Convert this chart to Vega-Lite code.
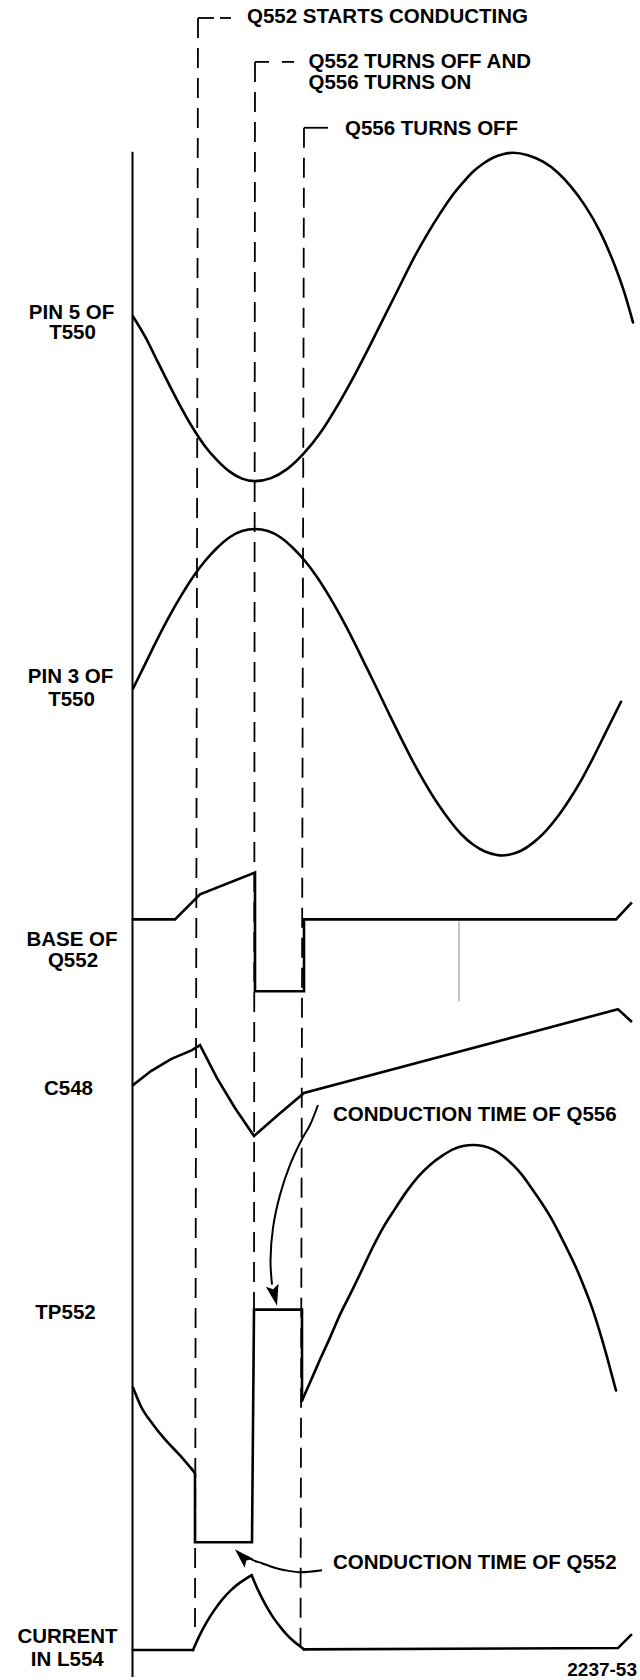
{
  "$schema": "https://vega.github.io/schema/vega-lite/v6.json",
  "width": 640,
  "height": 1680,
  "autosize": {"type": "fit", "contains": "padding"},
  "padding": 0,
  "background": "white",
  "config": {"view": {"stroke": null}},
  "datasets": {
    "smooth": [
      {"seg": "pin5", "i": 1, "t": 133, "v": 317}, {"seg": "pin5", "i": 2, "t": 145, "v": 337}, {"seg": "pin5", "i": 3, "t": 157, "v": 361}, {"seg": "pin5", "i": 4, "t": 169, "v": 385}, {"seg": "pin5", "i": 5, "t": 181, "v": 408}, {"seg": "pin5", "i": 6, "t": 193, "v": 429}, {"seg": "pin5", "i": 7, "t": 205, "v": 447}, {"seg": "pin5", "i": 8, "t": 217, "v": 461}, {"seg": "pin5", "i": 9, "t": 229, "v": 472}, {"seg": "pin5", "i": 10, "t": 242, "v": 479.5}, {"seg": "pin5", "i": 11, "t": 255, "v": 482}, {"seg": "pin5", "i": 12, "t": 271, "v": 479}, {"seg": "pin5", "i": 13, "t": 287, "v": 470}, {"seg": "pin5", "i": 14, "t": 304, "v": 454}, {"seg": "pin5", "i": 15, "t": 320, "v": 434}, {"seg": "pin5", "i": 16, "t": 340, "v": 402}, {"seg": "pin5", "i": 17, "t": 355, "v": 375}, {"seg": "pin5", "i": 18, "t": 370, "v": 346}, {"seg": "pin5", "i": 19, "t": 385, "v": 316}, {"seg": "pin5", "i": 20, "t": 400, "v": 286}, {"seg": "pin5", "i": 21, "t": 413, "v": 260}, {"seg": "pin5", "i": 22, "t": 427, "v": 235}, {"seg": "pin5", "i": 23, "t": 440, "v": 214}, {"seg": "pin5", "i": 24, "t": 450, "v": 199}, {"seg": "pin5", "i": 25, "t": 462, "v": 184}, {"seg": "pin5", "i": 26, "t": 473, "v": 172}, {"seg": "pin5", "i": 27, "t": 483, "v": 164}, {"seg": "pin5", "i": 28, "t": 493, "v": 158}, {"seg": "pin5", "i": 29, "t": 503, "v": 154.5}, {"seg": "pin5", "i": 30, "t": 513, "v": 153}, {"seg": "pin5", "i": 31, "t": 528, "v": 155.5}, {"seg": "pin5", "i": 32, "t": 543, "v": 162}, {"seg": "pin5", "i": 33, "t": 558, "v": 173}, {"seg": "pin5", "i": 34, "t": 571, "v": 187}, {"seg": "pin5", "i": 35, "t": 585, "v": 206}, {"seg": "pin5", "i": 36, "t": 600, "v": 232}, {"seg": "pin5", "i": 37, "t": 612, "v": 259}, {"seg": "pin5", "i": 38, "t": 624, "v": 292}, {"seg": "pin5", "i": 39, "t": 633, "v": 323},
      {"seg": "pin3", "i": 1, "t": 133, "v": 690}, {"seg": "pin3", "i": 2, "t": 145, "v": 665.5}, {"seg": "pin3", "i": 3, "t": 157, "v": 641}, {"seg": "pin3", "i": 4, "t": 169, "v": 618}, {"seg": "pin3", "i": 5, "t": 181, "v": 597}, {"seg": "pin3", "i": 6, "t": 193, "v": 578}, {"seg": "pin3", "i": 7, "t": 205, "v": 562}, {"seg": "pin3", "i": 8, "t": 217, "v": 549}, {"seg": "pin3", "i": 9, "t": 230, "v": 538}, {"seg": "pin3", "i": 10, "t": 242, "v": 532}, {"seg": "pin3", "i": 11, "t": 255, "v": 530}, {"seg": "pin3", "i": 12, "t": 268, "v": 532}, {"seg": "pin3", "i": 13, "t": 280, "v": 538}, {"seg": "pin3", "i": 14, "t": 293, "v": 549}, {"seg": "pin3", "i": 15, "t": 305, "v": 562}, {"seg": "pin3", "i": 16, "t": 317, "v": 578}, {"seg": "pin3", "i": 17, "t": 329, "v": 597}, {"seg": "pin3", "i": 18, "t": 341, "v": 618}, {"seg": "pin3", "i": 19, "t": 353, "v": 641}, {"seg": "pin3", "i": 20, "t": 365, "v": 665.5}, {"seg": "pin3", "i": 21, "t": 377, "v": 690}, {"seg": "pin3", "i": 22, "t": 389, "v": 715}, {"seg": "pin3", "i": 23, "t": 401, "v": 739.5}, {"seg": "pin3", "i": 24, "t": 413, "v": 763}, {"seg": "pin3", "i": 25, "t": 425, "v": 784.5}, {"seg": "pin3", "i": 26, "t": 437, "v": 804}, {"seg": "pin3", "i": 27, "t": 449, "v": 821}, {"seg": "pin3", "i": 28, "t": 461, "v": 835.5}, {"seg": "pin3", "i": 29, "t": 473, "v": 846}, {"seg": "pin3", "i": 30, "t": 485, "v": 853}, {"seg": "pin3", "i": 31, "t": 497, "v": 856.5}, {"seg": "pin3", "i": 32, "t": 502, "v": 857}, {"seg": "pin3", "i": 33, "t": 509, "v": 856.3}, {"seg": "pin3", "i": 34, "t": 521, "v": 852.3}, {"seg": "pin3", "i": 35, "t": 533, "v": 844.4}, {"seg": "pin3", "i": 36, "t": 545, "v": 833.3}, {"seg": "pin3", "i": 37, "t": 557, "v": 819}, {"seg": "pin3", "i": 38, "t": 569, "v": 801.7}, {"seg": "pin3", "i": 39, "t": 581, "v": 782}, {"seg": "pin3", "i": 40, "t": 593, "v": 759.4}, {"seg": "pin3", "i": 41, "t": 605, "v": 735.2}, {"seg": "pin3", "i": 42, "t": 621, "v": 703},
      {"seg": "tpL", "i": 1, "t": 133, "v": 1390}, {"seg": "tpL", "i": 2, "t": 141, "v": 1409}, {"seg": "tpL", "i": 3, "t": 153, "v": 1427}, {"seg": "tpL", "i": 4, "t": 165, "v": 1442}, {"seg": "tpL", "i": 5, "t": 180, "v": 1458}, {"seg": "tpL", "i": 6, "t": 192, "v": 1472},
      {"seg": "tpR", "i": 1, "t": 302, "v": 1403}, {"seg": "tpR", "i": 2, "t": 310, "v": 1385}, {"seg": "tpR", "i": 3, "t": 320, "v": 1362}, {"seg": "tpR", "i": 4, "t": 330, "v": 1340}, {"seg": "tpR", "i": 5, "t": 340, "v": 1317}, {"seg": "tpR", "i": 6, "t": 352, "v": 1293}, {"seg": "tpR", "i": 7, "t": 363, "v": 1270}, {"seg": "tpR", "i": 8, "t": 373, "v": 1249}, {"seg": "tpR", "i": 9, "t": 383, "v": 1230}, {"seg": "tpR", "i": 10, "t": 395, "v": 1211}, {"seg": "tpR", "i": 11, "t": 407, "v": 1193}, {"seg": "tpR", "i": 12, "t": 418, "v": 1179}, {"seg": "tpR", "i": 13, "t": 430, "v": 1167}, {"seg": "tpR", "i": 14, "t": 442, "v": 1158}, {"seg": "tpR", "i": 15, "t": 453, "v": 1151.5}, {"seg": "tpR", "i": 16, "t": 463, "v": 1148}, {"seg": "tpR", "i": 17, "t": 473, "v": 1147}, {"seg": "tpR", "i": 18, "t": 483, "v": 1148}, {"seg": "tpR", "i": 19, "t": 493, "v": 1151.5}, {"seg": "tpR", "i": 20, "t": 503, "v": 1158}, {"seg": "tpR", "i": 21, "t": 513, "v": 1167}, {"seg": "tpR", "i": 22, "t": 522, "v": 1177}, {"seg": "tpR", "i": 23, "t": 530, "v": 1188}, {"seg": "tpR", "i": 24, "t": 541, "v": 1204}, {"seg": "tpR", "i": 25, "t": 551, "v": 1220}, {"seg": "tpR", "i": 26, "t": 560, "v": 1237}, {"seg": "tpR", "i": 27, "t": 569, "v": 1255}, {"seg": "tpR", "i": 28, "t": 577, "v": 1272}, {"seg": "tpR", "i": 29, "t": 584, "v": 1289}, {"seg": "tpR", "i": 30, "t": 592, "v": 1310}, {"seg": "tpR", "i": 31, "t": 600, "v": 1335}, {"seg": "tpR", "i": 32, "t": 608, "v": 1363}, {"seg": "tpR", "i": 33, "t": 616, "v": 1393},
      {"seg": "curR", "i": 1, "t": 193, "v": 1653}, {"seg": "curR", "i": 2, "t": 199, "v": 1639.5}, {"seg": "curR", "i": 3, "t": 206.7, "v": 1625}, {"seg": "curR", "i": 4, "t": 214, "v": 1613.5}, {"seg": "curR", "i": 5, "t": 223, "v": 1601.5}, {"seg": "curR", "i": 6, "t": 231, "v": 1593}, {"seg": "curR", "i": 7, "t": 240, "v": 1585.5}, {"seg": "curR", "i": 8, "t": 246, "v": 1581.5}, {"seg": "curR", "i": 9, "t": 251.7, "v": 1578},
      {"seg": "curF", "i": 1, "t": 251.7, "v": 1578}, {"seg": "curF", "i": 2, "t": 255, "v": 1586}, {"seg": "curF", "i": 3, "t": 260, "v": 1597}, {"seg": "curF", "i": 4, "t": 266, "v": 1608.5}, {"seg": "curF", "i": 5, "t": 273, "v": 1620}, {"seg": "curF", "i": 6, "t": 280, "v": 1629.5}, {"seg": "curF", "i": 7, "t": 286.7, "v": 1637.5}, {"seg": "curF", "i": 8, "t": 294, "v": 1644.5}, {"seg": "curF", "i": 9, "t": 301.7, "v": 1650.5}, {"seg": "curF", "i": 10, "t": 304, "v": 1652.3}
    ],
    "linear": [
      {"seg": "base", "i": 1, "t": 133, "v": 921}, {"seg": "base", "i": 2, "t": 175, "v": 921}, {"seg": "base", "i": 3, "t": 200, "v": 896}, {"seg": "base", "i": 4, "t": 255, "v": 874}, {"seg": "base", "i": 5, "t": 255, "v": 993}, {"seg": "base", "i": 6, "t": 304, "v": 993}, {"seg": "base", "i": 7, "t": 304, "v": 921}, {"seg": "base", "i": 8, "t": 616, "v": 921}, {"seg": "base", "i": 9, "t": 631, "v": 905},
      {"seg": "c548", "i": 1, "t": 133, "v": 1087}, {"seg": "c548", "i": 2, "t": 151, "v": 1073}, {"seg": "c548", "i": 3, "t": 171, "v": 1061}, {"seg": "c548", "i": 4, "t": 192, "v": 1052}, {"seg": "c548", "i": 5, "t": 200, "v": 1047}, {"seg": "c548", "i": 6, "t": 217, "v": 1080}, {"seg": "c548", "i": 7, "t": 235, "v": 1110}, {"seg": "c548", "i": 8, "t": 254, "v": 1138}, {"seg": "c548", "i": 9, "t": 278, "v": 1117}, {"seg": "c548", "i": 10, "t": 304, "v": 1095}, {"seg": "c548", "i": 11, "t": 618, "v": 1011}, {"seg": "c548", "i": 12, "t": 631, "v": 1023},
      {"seg": "tpM", "i": 1, "t": 192, "v": 1472}, {"seg": "tpM", "i": 2, "t": 195, "v": 1476}, {"seg": "tpM", "i": 3, "t": 195, "v": 1545}, {"seg": "tpM", "i": 4, "t": 252, "v": 1545}, {"seg": "tpM", "i": 5, "t": 254, "v": 1312}, {"seg": "tpM", "i": 6, "t": 302, "v": 1312}, {"seg": "tpM", "i": 7, "t": 302, "v": 1403},
      {"seg": "curA", "i": 1, "t": 133, "v": 1653}, {"seg": "curA", "i": 2, "t": 193, "v": 1653},
      {"seg": "curB", "i": 1, "t": 304, "v": 1652.3}, {"seg": "curB", "i": 2, "t": 618, "v": 1651}, {"seg": "curB", "i": 3, "t": 631, "v": 1638}
    ],
    "arrows": [
      {"seg": "a556", "i": 1, "t": 318, "v": 1107}, {"seg": "a556", "i": 2, "t": 310, "v": 1127}, {"seg": "a556", "i": 3, "t": 302, "v": 1141}, {"seg": "a556", "i": 4, "t": 290, "v": 1167}, {"seg": "a556", "i": 5, "t": 280, "v": 1197}, {"seg": "a556", "i": 6, "t": 273, "v": 1230}, {"seg": "a556", "i": 7, "t": 270.5, "v": 1263}, {"seg": "a556", "i": 8, "t": 272, "v": 1287},
      {"seg": "a552", "i": 1, "t": 322, "v": 1573}, {"seg": "a552", "i": 2, "t": 300, "v": 1575}, {"seg": "a552", "i": 3, "t": 285, "v": 1573}, {"seg": "a552", "i": 4, "t": 273, "v": 1570}, {"seg": "a552", "i": 5, "t": 262, "v": 1566}, {"seg": "a552", "i": 6, "t": 253, "v": 1563}, {"seg": "a552", "i": 7, "t": 247, "v": 1559}
    ],
    "markersV": [
      {"name": "m1", "t": 198, "v": 18, "t2": 195, "v2": 1630},
      {"name": "m2", "t": 255, "v": 62, "t2": 254, "v2": 1312},
      {"name": "m3", "t": 304, "v": 128, "t2": 300.5, "v2": 1650}
    ],
    "markersH": [
      {"name": "m1a", "t": 198, "t2": 214, "v": 18}, {"name": "m1b", "t": 220, "t2": 231, "v": 18},
      {"name": "m2a", "t": 255, "t2": 269, "v": 62}, {"name": "m2b", "t": 282, "t2": 294, "v": 62},
      {"name": "m3", "t": 304, "t2": 328, "v": 128}
    ],
    "axisLine": [
      {"t": 132.5, "v": 152, "t2": 132.5, "v2": 1680}
    ],
    "grayLine": [
      {"t": 459, "v": 923, "t2": 459, "v2": 1003}
    ],
    "leftLabels": [
      {"label": "PIN 5 OF", "t": 71.5, "v": 313.5}, {"label": "T550", "t": 72.5, "v": 334},
      {"label": "PIN 3 OF", "t": 70.5, "v": 678}, {"label": "T550", "t": 71.5, "v": 701},
      {"label": "BASE OF", "t": 72, "v": 942}, {"label": "Q552", "t": 73, "v": 963},
      {"label": "C548", "t": 68.5, "v": 1091},
      {"label": "TP552", "t": 65.5, "v": 1315},
      {"label": "CURRENT", "t": 67.5, "v": 1640}, {"label": "IN L554", "t": 67.3, "v": 1663}
    ],
    "notes": [
      {"label": "Q552 STARTS CONDUCTING", "t": 247, "v": 17},
      {"label": "Q552 TURNS OFF AND", "t": 308.5, "v": 62},
      {"label": "Q556 TURNS ON", "t": 308.5, "v": 83},
      {"label": "Q556 TURNS OFF", "t": 345, "v": 129},
      {"label": "CONDUCTION TIME OF Q556", "t": 333, "v": 1117},
      {"label": "CONDUCTION TIME OF Q552", "t": 333, "v": 1566}
    ],
    "figNo": [
      {"label": "2237-53", "t": 637, "v": 1673}
    ],
    "heads": [
      {"name": "h556", "t": 274.6, "v": 1297.8},
      {"name": "h552", "t": 242, "v": 1559}
    ]
  },
  "encoding": {
    "x": {"field": "t", "type": "quantitative", "scale": {"domain": [0, 640], "nice": false, "zero": false}, "axis": null},
    "y": {"field": "v", "type": "quantitative", "scale": {"domain": [0, 1680], "nice": false, "zero": false, "reverse": true}, "axis": null}
  },
  "layer": [
    {
      "data": {"name": "axisLine"},
      "mark": {"type": "rule", "color": "black", "strokeWidth": 2},
      "encoding": {"x2": {"field": "t2"}, "y2": {"field": "v2"}}
    },
    {
      "data": {"name": "grayLine"},
      "mark": {"type": "rule", "color": "#8a8a8a", "strokeWidth": 1},
      "encoding": {"x2": {"field": "t2"}, "y2": {"field": "v2"}}
    },
    {
      "data": {"name": "markersV"},
      "mark": {"type": "rule", "color": "black", "strokeWidth": 1.8, "strokeDash": [20, 10]},
      "encoding": {"x2": {"field": "t2"}, "y2": {"field": "v2"}}
    },
    {
      "data": {"name": "markersH"},
      "mark": {"type": "rule", "color": "black", "strokeWidth": 1.8},
      "encoding": {"x2": {"field": "t2"}}
    },
    {
      "data": {"name": "smooth"},
      "mark": {"type": "line", "color": "black", "strokeWidth": 2.6, "interpolate": "monotone", "strokeJoin": "round", "strokeCap": "round"},
      "encoding": {"detail": {"field": "seg"}, "order": {"field": "i", "type": "quantitative"}}
    },
    {
      "data": {"name": "linear"},
      "mark": {"type": "line", "color": "black", "strokeWidth": 2.6, "interpolate": "linear", "strokeJoin": "miter", "strokeCap": "square"},
      "encoding": {"detail": {"field": "seg"}, "order": {"field": "i", "type": "quantitative"}}
    },
    {
      "data": {"name": "arrows"},
      "mark": {"type": "line", "color": "black", "strokeWidth": 2, "interpolate": "catmull-rom"},
      "encoding": {"detail": {"field": "seg"}, "order": {"field": "i", "type": "quantitative"}}
    },
    {
      "data": {"name": "heads"},
      "transform": [{"filter": "datum.name == 'h556'"}],
      "mark": {"type": "point", "shape": "M0,1L-0.62,-1L0,-0.6L0.62,-1Z", "size": 441, "filled": true, "color": "black", "opacity": 1, "angle": 346.6}
    },
    {
      "data": {"name": "heads"},
      "transform": [{"filter": "datum.name == 'h552'"}],
      "mark": {"type": "point", "shape": "M0,1L-0.62,-1L0,-0.6L0.62,-1Z", "size": 400, "filled": true, "color": "black", "opacity": 1, "angle": 135}
    },
    {
      "data": {"name": "leftLabels"},
      "mark": {"type": "text", "font": "Liberation Sans", "fontWeight": "bold", "fontSize": 20.5, "align": "center", "baseline": "middle", "color": "black"},
      "encoding": {"text": {"field": "label"}}
    },
    {
      "data": {"name": "notes"},
      "mark": {"type": "text", "font": "Liberation Sans", "fontWeight": "bold", "fontSize": 20.5, "align": "left", "baseline": "middle", "color": "black"},
      "encoding": {"text": {"field": "label"}}
    },
    {
      "data": {"name": "figNo"},
      "mark": {"type": "text", "font": "Liberation Sans", "fontWeight": "bold", "fontSize": 19, "align": "right", "baseline": "middle", "color": "black"},
      "encoding": {"text": {"field": "label"}}
    }
  ]
}
